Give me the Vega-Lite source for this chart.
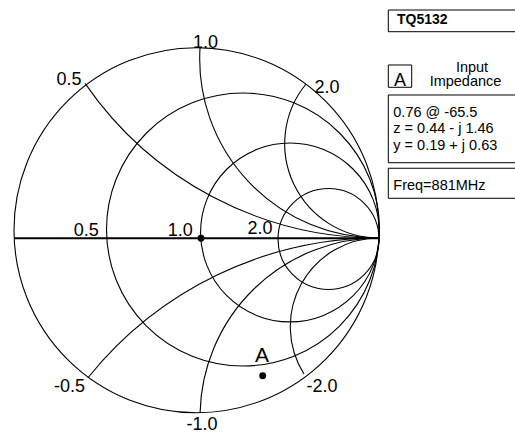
{
  "$schema": "https://vega.github.io/schema/vega-lite/v6.json",
  "width": 515,
  "height": 433,
  "autosize": "none",
  "padding": 0,
  "background": "white",
  "config": {"view": {"stroke": null}, "text": {"font": "Liberation Sans"}},
  "datasets": {
    "arcs": [
      {"name": "outer", "x": 0, "y": 0, "r": 1.0, "t0": 0, "t1": 360},
      {"name": "r0.5", "x": 0.2548, "y": 0.0041, "r": 0.7479, "t0": 0, "t1": 360},
      {"name": "r1.0", "x": 0.5123, "y": -0.0123, "r": 0.4900, "t0": 0, "t1": 360},
      {"name": "r2.0", "x": 0.7233, "y": -0.0479, "r": 0.2767, "t0": 0, "t1": 360},
      {"name": "x+1.0", "x": 1.0, "y": 0.9400, "r": 0.9825, "t0": 180, "t1": 273.4},
      {"name": "x+0.5", "x": 1.0, "y": 1.9121, "r": 1.9545, "t0": 180, "t1": 235.5},
      {"name": "x+2.0", "x": 1.0, "y": 0.4742, "r": 0.5167, "t0": 180, "t1": 309.3},
      {"name": "x-1.0", "x": 1.0, "y": -1.0233, "r": 0.9808, "t0": 271.3, "t1": 360},
      {"name": "x-0.5", "x": 1.0, "y": -2.0858, "r": 2.0433, "t0": 308.7, "t1": 360},
      {"name": "x-2.0", "x": 1.0, "y": -0.5285, "r": 0.4860, "t0": 237.8, "t1": 360}
    ],
    "axis": [{"x": -1.0, "x2": 1.0, "y": -0.0441}],
    "dots": [
      {"name": "center", "x": 0.0247, "y": -0.0441},
      {"name": "A", "x": 0.3627, "y": -0.797}
    ],
    "labels": [
      {"label": "1.0", "x": 0.0493, "y": 0.9986},
      {"label": "0.5", "x": -0.6986, "y": 0.7959},
      {"label": "2.0", "x": 0.7151, "y": 0.7507},
      {"label": "0.5", "x": -0.6038, "y": -0.0315},
      {"label": "1.0", "x": -0.0888, "y": -0.0299},
      {"label": "2.0", "x": 0.3479, "y": -0.0205},
      {"label": "-0.5", "x": -0.6959, "y": -0.8863},
      {"label": "-1.0", "x": 0.0301, "y": -1.0945},
      {"label": "-2.0", "x": 0.6877, "y": -0.8847}
    ],
    "markerLabel": [{"label": "A", "x": 0.3589, "y": -0.7203}],
    "boxes": [
      {"x": 1.0510, "x2": 1.7726, "y": 1.2068, "y2": 1.0879},
      {"x": 1.0510, "x2": 1.1792, "y": 0.9055, "y2": 0.7833},
      {"x": 1.0510, "x2": 1.7726, "y": 0.7411, "y2": 0.3701},
      {"x": 1.0510, "x2": 1.7726, "y": 0.3397, "y2": 0.1751}
    ],
    "title": [{"label": "TQ5132", "x": 1.0986, "y": 1.1301}],
    "boxA": [{"label": "A", "x": 1.1151, "y": 0.7904}],
    "heading": [
      {"label": "Input", "x": 1.5096, "y": 0.8688},
      {"label": "Impedance", "x": 1.4740, "y": 0.7904}
    ],
    "info": [
      {"label": "0.76 @ -65.5", "x": 1.0784, "y": 0.6222},
      {"label": "z = 0.44 - j 1.46", "x": 1.0784, "y": 0.5312},
      {"label": "y = 0.19 + j 0.63", "x": 1.0784, "y": 0.4397},
      {"label": "Freq=881MHz", "x": 1.0784, "y": 0.2205}
    ]
  },
  "encoding": {
    "x": {"field": "x", "type": "quantitative", "axis": null,
          "scale": {"domain": [-1.076712, 1.745205], "nice": false, "zero": false}},
    "y": {"field": "y", "type": "quantitative", "axis": null,
          "scale": {"domain": [-1.110959, 1.261644], "nice": false, "zero": false}}
  },
  "layer": [
    {
      "data": {"name": "arcs"},
      "mark": {"type": "arc", "filled": false, "stroke": "black", "strokeWidth": 1.1},
      "encoding": {
        "theta": {"field": "t0", "type": "quantitative", "stack": null,
                  "scale": {"type": "linear", "domain": [0, 360], "range": [0, 6.283185307]}},
        "theta2": {"field": "t1"},
        "radius": {"field": "r", "type": "quantitative",
                   "scale": {"type": "linear", "domain": [0, 1], "range": [0, 182.5], "zero": true}},
        "radius2": {"field": "r"}
      }
    },
    {
      "data": {"name": "axis"},
      "mark": {"type": "rule", "color": "black", "strokeWidth": 2},
      "encoding": {"x2": {"field": "x2"}}
    },
    {
      "data": {"name": "dots"},
      "mark": {"type": "point", "filled": true, "color": "black", "size": 48, "opacity": 1},
      "encoding": {}
    },
    {
      "data": {"name": "labels"},
      "mark": {"type": "text", "fontSize": 18, "align": "center", "baseline": "alphabetic", "color": "black"},
      "encoding": {"text": {"field": "label"}}
    },
    {
      "data": {"name": "markerLabel"},
      "mark": {"type": "text", "fontSize": 21, "align": "center", "baseline": "alphabetic", "color": "black"},
      "encoding": {"text": {"field": "label"}}
    },
    {
      "data": {"name": "boxes"},
      "mark": {"type": "rect", "fill": null, "filled": false, "stroke": "black", "strokeWidth": 1},
      "encoding": {"x2": {"field": "x2"}, "y2": {"field": "y2"}}
    },
    {
      "data": {"name": "title"},
      "mark": {"type": "text", "fontSize": 14, "fontWeight": "bold", "align": "left", "baseline": "alphabetic", "color": "black"},
      "encoding": {"text": {"field": "label"}}
    },
    {
      "data": {"name": "boxA"},
      "mark": {"type": "text", "fontSize": 18, "align": "center", "baseline": "alphabetic", "color": "black"},
      "encoding": {"text": {"field": "label"}}
    },
    {
      "data": {"name": "heading"},
      "mark": {"type": "text", "fontSize": 14.5, "align": "center", "baseline": "alphabetic", "color": "black"},
      "encoding": {"text": {"field": "label"}}
    },
    {
      "data": {"name": "info"},
      "mark": {"type": "text", "fontSize": 14.5, "align": "left", "baseline": "alphabetic", "color": "black"},
      "encoding": {"text": {"field": "label"}}
    }
  ]
}
